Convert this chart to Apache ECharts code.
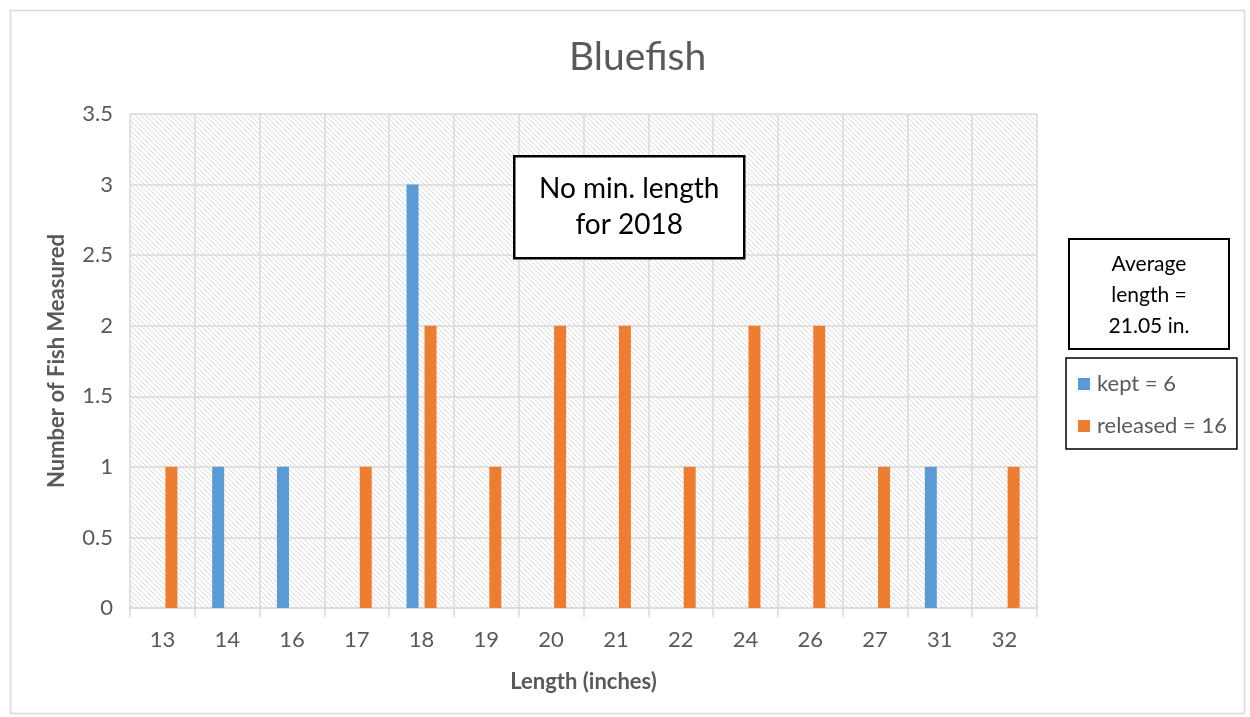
<!DOCTYPE html>
<html><head><meta charset="utf-8">
<script src="https://cdn.jsdelivr.net/npm/echarts@6/dist/echarts.min.js"></script>
<style>html,body{margin:0;padding:0;background:#fff}#c{width:1250px;height:717px}</style>
</head><body><div id="c"></div>
<script>
const categories = ['13','14','16','17','18','19','20','21','22','24','26','27','31','32'];
const kept =     [null, 1, 1, null, 3, null, null, null, null, null, null, null, 1, null];
const released = [1, null, null, 1, 2, 1, 2, 2, 1, 2, 2, 1, null, 1];
const seriesNames = ['kept = 6', 'released = 16'];
const yTicks = {min: 0, max: 3.5, interval: 0.5};

const pc = document.createElement('canvas');
pc.width = 5; pc.height = 5;
const g = pc.getContext('2d');
g.fillStyle = '#ffffff'; g.fillRect(0,0,5,5);
g.strokeStyle = '#dadada'; g.lineWidth = 1;
g.beginPath();
g.moveTo(-1,-1); g.lineTo(6,6);
g.moveTo(-1,4); g.lineTo(1,6);
g.moveTo(4,-1); g.lineTo(6,1);
g.stroke();

const FONT = 'Lato, "Liberation Sans", sans-serif';
const chart = echarts.init(document.getElementById('c'), null, {renderer:'canvas'});
chart.setOption({
  backgroundColor: '#ffffff',
  animation: false,
  title: {text: 'Bluefish', left: 564, top: 33,
    textStyle: {fontFamily: FONT, fontSize: 39, fontWeight: 'normal', color: '#595959'}},
  grid: {left: 130, right: 213, top: 114, bottom: 109, show: true,
    backgroundColor: {image: pc, repeat: 'repeat'}, borderWidth: 0},
  legend: {orient: 'vertical', left: 1066, top: 358, width: 174, height: 91,
    data: seriesNames, itemWidth: 12, itemHeight: 12, itemGap: 20,
    padding: [15, 10, 12, 12], borderColor: '#000', borderWidth: 1.5,
    textStyle: {fontFamily: FONT, fontSize: 22, color: '#595959', padding: [0,0,0,2]},
    icon: 'rect'},
  xAxis: {type: 'category', data: categories, boundaryGap: true,
    name: 'Length (inches)', nameLocation: 'middle', nameGap: 63,
    nameTextStyle: {fontFamily: FONT, fontSize: 22, fontWeight: 'bold', color: '#595959'},
    axisLine: {lineStyle: {color: '#d9d9d9', width: 1.5}},
    axisTick: {show: true, length: 9, alignWithLabel: false, lineStyle: {color: '#d9d9d9', width: 1.5}},
    axisLabel: {fontFamily: FONT, fontSize: 22, color: '#595959', margin: 21},
    splitLine: {show: true, interval: 0, lineStyle: {color: '#d9d9d9', width: 1.5}}},
  yAxis: {type: 'value', min: yTicks.min, max: yTicks.max, interval: yTicks.interval,
    name: 'Number of Fish Measured', nameLocation: 'middle', nameGap: 62,
    nameTextStyle: {fontFamily: FONT, fontSize: 22, fontWeight: 'bold', color: '#595959'},
    axisLine: {show: false}, axisTick: {show: false},
    axisLabel: {fontFamily: FONT, fontSize: 22, color: '#595959', margin: 17},
    splitLine: {show: true, lineStyle: {color: '#d9d9d9', width: 1.5}}},
  series: [
    {name: seriesNames[0], type: 'bar', data: kept, barWidth: 12, barGap: '50%',
      itemStyle: {color: '#5B9BD5'}},
    {name: seriesNames[1], type: 'bar', data: released, barWidth: 12, barGap: '50%',
      itemStyle: {color: '#ED7D31'}}
  ],
  graphic: [
    {type: 'rect', left: 8, top: 8, shape: {width: 1234, height: 703}, z: 0,
      style: {fill: 'none', stroke: '#d9d9d9', lineWidth: 1.5}, silent: true},
    {type: 'group', left: 513, top: 155, z: 100, children: [
      {type: 'rect', z: 100, shape: {width: 230, height: 102}, style: {fill: '#fff', stroke: '#000', lineWidth: 2.5}},
      {type: 'text', z: 101, style: {x: 115, y: 51, text: 'No min. length\nfor 2018', align: 'center', verticalAlign: 'middle',
        font: '28px ' + FONT, fill: '#000', lineHeight: 36}}
    ]},
    {type: 'group', left: 1068, top: 238, z: 100, children: [
      {type: 'rect', z: 100, shape: {width: 160, height: 110}, style: {fill: '#fff', stroke: '#000', lineWidth: 2}},
      {type: 'text', z: 101, style: {x: 80, y: 56, text: 'Average\nlength =\n21.05 in.', align: 'center', verticalAlign: 'middle',
        font: '21px ' + FONT, fill: '#000', lineHeight: 31}}
    ]}
  ]
});
</script></body></html>
